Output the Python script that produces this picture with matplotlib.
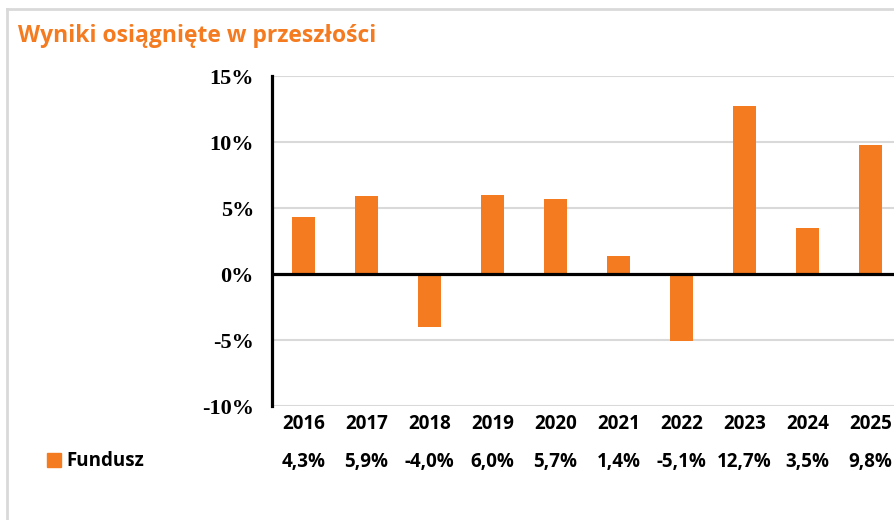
import matplotlib.pyplot as plt
from matplotlib.lines import Line2D
from matplotlib.patches import Rectangle
import matplotlib.transforms as mtransforms

# Data
years = ["2016", "2017", "2018", "2019", "2020", "2021", "2022", "2023", "2024", "2025"]
values = [4.3, 5.9, -4.0, 6.0, 5.7, 1.4, -5.1, 12.7, 3.5, 9.8]
value_labels = ["4,3%", "5,9%", "-4,0%", "6,0%", "5,7%", "1,4%", "-5,1%", "12,7%", "3,5%", "9,8%"]
y_ticks = [-10, -5, 0, 5, 10, 15]
series_name = "Fundusz"

orange = "#F47B20"
grid_grey = "#d9d9d9"

fig = plt.figure(figsize=(8.94, 5.20), dpi=100)
W, H = 894, 520

# light grey frame around the chart area
fig.add_artist(Line2D([7 / W, 7 / W], [0, 1 - 9 / H], color=grid_grey, lw=2))
fig.add_artist(Line2D([7 / W, 1], [1 - 9 / H, 1 - 9 / H], color=grid_grey, lw=2))

# title
fig.text(18 / W, 1 - 36 / H, "Wyniki osiągnięte w przeszłości", color=orange,
         fontsize=16.5, fontweight="bold", family="Open Sans", va="center", ha="left")

# plot area (extends a little past the right edge, as in the reference)
ax = fig.add_axes([272 / W, 1 - 406 / H, 630 / W, 330 / H])
x = list(range(len(years)))
ax.bar(x, values, width=0.35, color=orange, zorder=3)
ax.set_xlim(-0.5, len(years) - 0.5)
ax.set_ylim(-10, 15)
ax.set_yticks(y_ticks)
ax.set_yticklabels([f"{t}%" for t in y_ticks], fontfamily="Liberation Serif",
                   fontweight="bold", fontsize=16)
ax.tick_params(axis="y", length=0, pad=13)
ax.set_xticks([])
for t in y_ticks:
    if t != 0:
        ax.axhline(t, color=grid_grey, lw=1.5, zorder=1)
ax.axhline(0, color="black", lw=2.3, zorder=4)
for s in ["top", "right", "bottom"]:
    ax.spines[s].set_visible(False)
ax.spines["left"].set_linewidth(2.3)
ax.spines["left"].set_zorder(5)

# data table under the chart
trans = mtransforms.blended_transform_factory(ax.transData, fig.transFigure)
for i, (yr, lab) in enumerate(zip(years, value_labels)):
    ax.text(i, 1 - 424 / H, yr, transform=trans, ha="center", va="center",
            fontsize=13.5, fontweight="bold", family="Open Sans", clip_on=False)
    ax.text(i, 1 - 462 / H, lab, transform=trans, ha="center", va="center",
            fontsize=13.5, fontweight="bold", family="Open Sans", clip_on=False)

# legend key
fig.add_artist(Rectangle((47 / W, 1 - 467 / H), 14 / W, 14 / H, color=orange))
fig.text(66 / W, 1 - 461 / H, series_name, fontsize=13.5, fontweight="bold",
         family="Open Sans", va="center", ha="left")

fig.savefig("out.png", dpi=100)
